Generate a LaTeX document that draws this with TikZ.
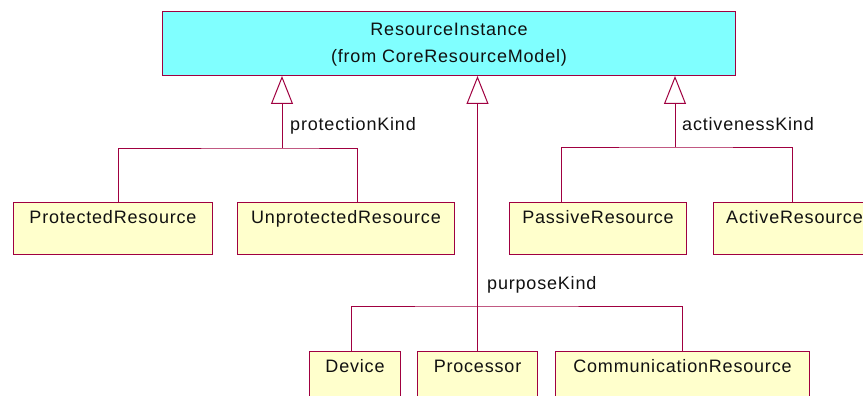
\documentclass[tikz,border=0pt]{standalone}
\usepackage{fontspec}
\setmainfont{Liberation Sans}[LetterSpace=4.5]
\usetikzlibrary{arrows.meta}
\definecolor{edgec}{HTML}{A00040}
\definecolor{cyanfill}{HTML}{80FFFF}
\definecolor{yelfill}{HTML}{FFFFCC}
\definecolor{txt}{HTML}{111111}
\begin{document}
\begin{tikzpicture}[x=1pt,y=-1pt,
  every node/.style={text=txt, font=\fontsize{18}{27}\selectfont},
  cls/.style={draw=edgec, line width=1pt, fill=yelfill, rectangle, anchor=north west,
    inner xsep=0pt, inner ysep=8pt, text height=13pt, text depth=23pt},
  topcls/.style={draw=edgec, line width=1pt, fill=cyanfill, rectangle, anchor=north west,
    inner xsep=0pt, inner ysep=11pt, text height=40pt, text depth=2pt, align=center},
  conn/.style={draw=edgec, line width=1pt},
  gen/.style={conn, -{Triangle[open, length=28pt, width=22pt, fill=white]}},
  lbl/.style={anchor=base west, inner sep=0pt}
]
\clip (0,0) rectangle (863,396);
\fill[white] (0,0) rectangle (863,396);

\node[topcls, minimum width=573pt] (top) at (162,11) {ResourceInstance\\(from CoreResourceModel)};

\node[cls, minimum width=199pt] (prot) at (13,202) {ProtectedResource};
\node[cls, minimum width=217pt] (unprot) at (237,202) {UnprotectedResource};
\node[cls, minimum width=177pt] (passive) at (509,202) {PassiveResource};
\node[cls, minimum width=162pt] (active) at (713,202) {ActiveResource};

\node[cls, minimum width=91pt] (dev) at (309,351) {Device};
\node[cls, minimum width=120pt] (proc) at (417,351) {Processor};
\node[cls, minimum width=254pt] (comm) at (555,351) {CommunicationResource};

\coordinate (pj) at (282,148);
\coordinate (aj) at (675,147);
\coordinate (uj) at (477,306);

\draw[conn] ([xshift=105pt]prot.north west) |- (pj) -| ([xshift=120pt]unprot.north west);
\draw[gen] (pj) -- (top.south -| pj);

\draw[conn] ([xshift=52pt]passive.north west) |- (aj) -| ([xshift=79pt]active.north west);
\draw[gen] (aj) -- (top.south -| aj);

\draw[conn] ([xshift=42pt]dev.north west) |- (uj) -| (comm.north);
\draw[gen] (proc.north) -- (top.south -| proc.north);

\node[lbl] (lp) at (290,130) {protectionKind};
\node[lbl] (la) at (682,130) {activenessKind};
\node[lbl] (lu) at (487,289) {purposeKind};
\end{tikzpicture}
\end{document}
